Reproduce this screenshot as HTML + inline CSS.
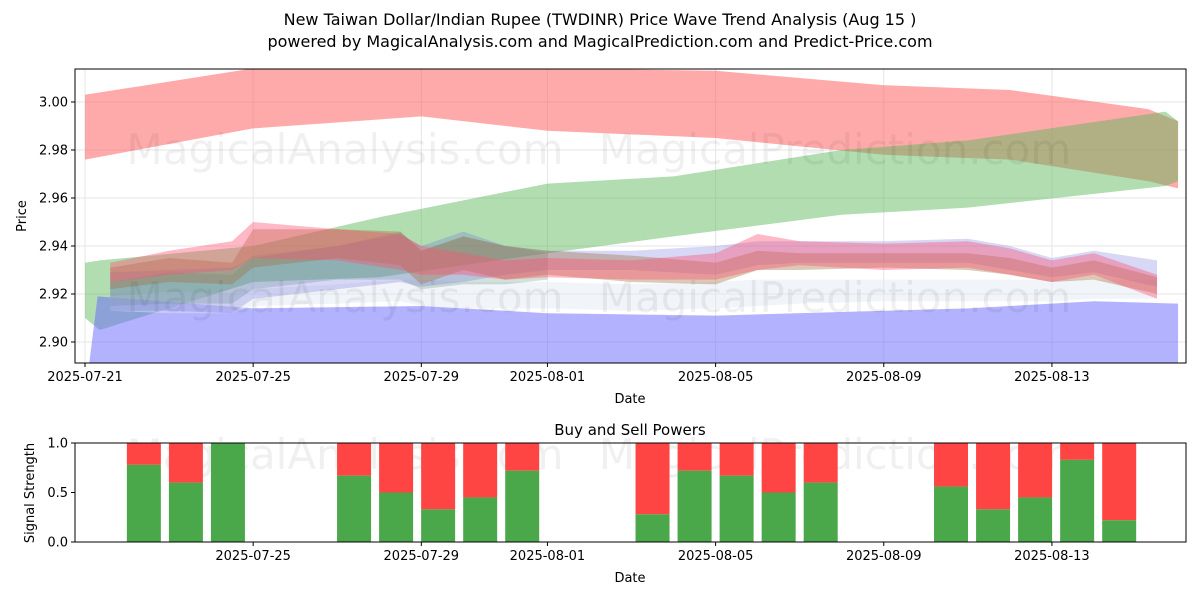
<!DOCTYPE html>
<html><head><meta charset="utf-8"><style>
body{margin:0;background:#fff;font-family:"Liberation Sans","DejaVu Sans",sans-serif}
svg text{font-family:"DejaVu Sans","Liberation Sans",sans-serif}
</style></head><body>
<svg id="c" width="1200" height="600" viewBox="0 0 1200 600" xmlns="http://www.w3.org/2000/svg">
<text x="600" y="25" text-anchor="middle" font-size="16" fill="#000">New Taiwan Dollar/Indian Rupee (TWDINR) Price Wave Trend Analysis (Aug 15 )</text>
<text x="600" y="47" text-anchor="middle" font-size="16" fill="#000">powered by MagicalAnalysis.com and MagicalPrediction.com and Predict-Price.com</text>
<g id="topg"></g><g id="botg"></g>
</svg>
<script>
const xTickLabels=["2025-07-21","2025-07-25","2025-07-29","2025-08-01","2025-08-05","2025-08-09","2025-08-13"];
const xTickDays=[0,4,8,11,15,19,23];
const yTicks=[2.90,2.92,2.94,2.96,2.98,3.00];
const redDays=[0,4,8,11,15,19,22,25.3,26];
const redUp=[3.003,3.014,3.015,3.014,3.013,3.007,3.005,2.997,2.992];
const redLo=[2.976,2.989,2.994,2.988,2.985,2.978,2.976,2.967,2.964];
const greenDays=[0,0.35,4,7,11,14,18,21,25.7,26];
const greenUp=[2.933,2.934,2.94,2.952,2.966,2.969,2.98,2.984,2.996,2.992];
const greenLo=[2.91,2.905,2.925,2.927,2.937,2.944,2.953,2.956,2.965,2.967];
const blueDays=[0.1,0.3,4,8,11,15,21,24,26];
const blueUp=[2.891,2.919,2.914,2.915,2.912,2.911,2.914,2.917,2.916];
const blueLo=[2.891,2.891,2.891,2.891,2.891,2.891,2.891,2.891,2.891];
const cDays=[0.6,2,3.5,4,6,7.5,8,9,10,11,13,15,16,17,19,21,22,23,24,25.5];
const pinkUp=[2.933,2.938,2.942,2.950,2.947,2.945,2.940,2.937,2.934,2.935,2.934,2.937,2.945,2.942,2.941,2.942,2.939,2.934,2.937,2.928];
const pinkLo=[2.925,2.928,2.930,2.935,2.934,2.930,2.928,2.928,2.926,2.927,2.926,2.926,2.930,2.932,2.930,2.931,2.928,2.925,2.928,2.918];
const brownUp=[2.931,2.935,2.933,2.947,2.947,2.946,2.938,2.944,2.940,2.938,2.936,2.933,2.938,2.937,2.937,2.937,2.935,2.931,2.934,2.927];
const brownLo=[2.922,2.925,2.924,2.931,2.935,2.932,2.924,2.930,2.926,2.928,2.925,2.924,2.930,2.930,2.931,2.930,2.928,2.925,2.926,2.920];
const purpUp=[2.929,2.930,2.931,2.935,2.940,2.945,2.940,2.946,2.940,2.938,2.938,2.940,2.942,2.942,2.942,2.943,2.940,2.935,2.938,2.934];
const purpLo=[2.913,2.913,2.912,2.918,2.922,2.925,2.923,2.925,2.928,2.930,2.930,2.928,2.932,2.933,2.933,2.933,2.930,2.927,2.929,2.923];
const paleUp=[2.919,2.921,2.920,2.922,2.924,2.926,2.926,2.925,2.925,2.925,2.924,2.925,2.926,2.926,2.926,2.926,2.926,2.926,2.926,2.926];
const paleLo=[2.913,2.912,2.912,2.915,2.916,2.917,2.915,2.914,2.914,2.914,2.913,2.914,2.915,2.916,2.917,2.917,2.917,2.917,2.918,2.918];
const tealDays=[0.6,2,3.5,4,6,7.5,8,9,10,11];
const tealUp=[2.925,2.929,2.928,2.936,2.940,2.946,2.938,2.944,2.940,2.937];
const tealLo=[2.915,2.916,2.916,2.922,2.926,2.926,2.922,2.924,2.924,2.926];
const barDays=[1.4,2.4,3.4,6.4,7.4,8.4,9.4,10.4,13.5,14.5,15.5,16.5,17.5,20.6,21.6,22.6,23.6,24.6];
const buyVals=[0.78,0.6,1.0,0.67,0.5,0.33,0.45,0.72,0.28,0.72,0.67,0.5,0.6,0.56,0.33,0.45,0.83,0.22];
const sigTicks=[0,0.5,1.0];

const NS="http://www.w3.org/2000/svg";
const L=75,R=1186,T=69,B=363,BT=443,BB=542;
const X=d=>85+d*42.04;
const Y=v=>B-(v-2.89125)/(3.01375-2.89125)*(B-T);
const YB=v=>BB-v*(BB-BT);
function mk(p,tag,attrs){const e=document.createElementNS(NS,tag);for(const k in attrs)e.setAttribute(k,attrs[k]);p.appendChild(e);return e;}
const gTop=document.getElementById('topg'),gBot=document.getElementById('botg');
const cp=mk(gTop,'clipPath',{id:'cl'});mk(cp,'rect',{x:L,y:T,width:R-L,height:B-T});
for(const d of xTickDays){const g=mk(gTop,'line',{x1:X(d),x2:X(d),y1:T,y2:B,stroke:'#e6e6e6'});}
for(const v of yTicks){const g=mk(gTop,'line',{x1:L,x2:R,y1:Y(v),y2:Y(v),stroke:'#e6e6e6'});}
const plot=mk(gTop,'g',{'clip-path':'url(#cl)'});
function band(days,up,lo,color,op,name){
 let pts=days.map((d,i)=>X(d)+','+Y(up[i]));
 for(let i=days.length-1;i>=0;i--)pts.push(X(days[i])+','+Y(lo[i]));
 const p=mk(plot,'polygon',{points:pts.join(' '),fill:color,'fill-opacity':op});
 
 
}
band(redDays,redUp,redLo,'#ff5555',0.5,'red-band');
band(greenDays,greenUp,greenLo,'#5cb85c',0.48,'green-band');
band(blueDays,blueUp,blueLo,'#6666ff',0.5,'blue-band');
band(cDays,paleUp,paleLo,'#dfe6f2',0.45,'pale-band');
band(tealDays,tealUp,tealLo,'#6a9a80',0.3,'teal-band');
band(cDays,purpUp,purpLo,'#7070e0',0.28,'purple-band');
band(cDays,brownUp,brownLo,'#a07040',0.38,'brown-band');
band(cDays,pinkUp,pinkLo,'#ff5070',0.4,'pink-band');
for(const [x,y,s] of [[345,150,'MagicalAnalysis.com'],[835,150,'MagicalPrediction.com'],[345,298,'MagicalAnalysis.com'],[835,298,'MagicalPrediction.com'],[345,455,'MagicalAnalysis.com'],[835,455,'MagicalPrediction.com']]){
 const w=mk(gTop,'text',{x:x,y:y+14,'text-anchor':'middle','font-size':42,fill:'#000','fill-opacity':0.06});w.textContent=s;
 }
const fr=mk(gTop,'rect',{x:L,y:T,width:R-L,height:B-T,fill:'none',stroke:'#000'});

xTickDays.forEach((d,i)=>{mk(gTop,'line',{x1:X(d),x2:X(d),y1:B,y2:B+4,stroke:'#000'});
 const t=mk(gTop,'text',{x:X(d),y:B+18,'text-anchor':'middle','font-size':13});t.textContent=xTickLabels[i];
 });
yTicks.forEach(v=>{mk(gTop,'line',{x1:L-4,x2:L,y1:Y(v),y2:Y(v),stroke:'#000'});
 const t=mk(gTop,'text',{x:L-7,y:Y(v)+4.5,'text-anchor':'end','font-size':13});t.textContent=v.toFixed(2);
 });
let tt=mk(gTop,'text',{x:630,y:403,'text-anchor':'middle','font-size':13});tt.textContent='Date';

tt=mk(gTop,'text',{x:26,y:216,'text-anchor':'middle','font-size':13,transform:'rotate(-90 26 216)'});tt.textContent='Price';

tt=mk(gBot,'text',{x:630,y:435,'text-anchor':'middle','font-size':15});tt.textContent='Buy and Sell Powers';

barDays.forEach((d,i)=>{const cx=X(d),w=34;
 const s=mk(gBot,'rect',{x:cx-w/2,y:YB(1),width:w,height:YB(buyVals[i])-YB(1),fill:'#ff4444'});
 
 const b=mk(gBot,'rect',{x:cx-w/2,y:YB(buyVals[i]),width:w,height:YB(0)-YB(buyVals[i]),fill:'#4aa84a'});
 });
const fr2=mk(gBot,'rect',{x:L,y:BT,width:R-L,height:BB-BT,fill:'none',stroke:'#000'});

xTickDays.slice(1).forEach((d,i)=>{mk(gBot,'line',{x1:X(d),x2:X(d),y1:BB,y2:BB+4,stroke:'#000'});
 const t=mk(gBot,'text',{x:X(d),y:BB+18,'text-anchor':'middle','font-size':13});t.textContent=xTickLabels[i+1];
 });
sigTicks.forEach(v=>{mk(gBot,'line',{x1:L-4,x2:L,y1:YB(v),y2:YB(v),stroke:'#000'});
 const t=mk(gBot,'text',{x:L-7,y:YB(v)+4.5,'text-anchor':'end','font-size':13});t.textContent=v.toFixed(1);
 });
tt=mk(gBot,'text',{x:630,y:582,'text-anchor':'middle','font-size':13});tt.textContent='Date';

tt=mk(gBot,'text',{x:34,y:493,'text-anchor':'middle','font-size':13,transform:'rotate(-90 34 493)'});tt.textContent='Signal Strength';

</script>
</body></html>
